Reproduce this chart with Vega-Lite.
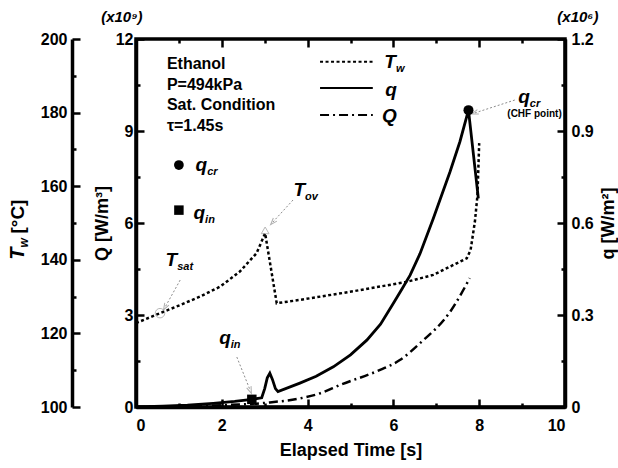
{
  "$schema": "https://vega.github.io/schema/vega-lite/v6.json",
  "width": 429,
  "height": 368,
  "autosize": {"type": "none"},
  "padding": {"left": 136, "top": 39, "right": 53, "bottom": 61},
  "background": "white",
  "config": {
    "view": {"stroke": "black", "strokeWidth": 3.5},
    "font": "Liberation Sans",
    "axis": {
      "labelFont": "Liberation Sans", "labelFontWeight": "bold", "labelFontSize": 16, "labelColor": "black",
      "titleFont": "Liberation Sans", "titleFontWeight": "bold", "titleFontSize": 18, "titleColor": "black",
      "domainColor": "black", "domainWidth": 3.5, "grid": false,
      "ticks": true, "tickColor": "black", "tickWidth": 2.5, "zindex": 1
    },
    "text": {"font": "Liberation Sans", "color": "black"}
  },
  "datasets": {
    "tw": [
      {"t": 0, "T": 122.8}, {"t": 0.56, "T": 125.5}, {"t": 1.03, "T": 127.7}, {"t": 1.49, "T": 130.0},
      {"t": 1.96, "T": 132.7}, {"t": 2.42, "T": 136.8}, {"t": 2.81, "T": 141.8}, {"t": 3.01, "T": 147.2},
      {"t": 3.28, "T": 128.2}, {"t": 3.82, "T": 129.1}, {"t": 4.99, "T": 131.3}, {"t": 6.31, "T": 134.0},
      {"t": 6.93, "T": 135.9}, {"t": 7.71, "T": 140.4}, {"t": 7.8, "T": 142.7}, {"t": 7.9, "T": 150.4},
      {"t": 7.96, "T": 157.6}, {"t": 8.0, "T": 171.7}
    ],
    "qv": [
      {"t": 0, "q": 0}, {"t": 0.63, "q": 0.003}, {"t": 1.2, "q": 0.006}, {"t": 1.8, "q": 0.012},
      {"t": 2.3, "q": 0.018}, {"t": 2.7, "q": 0.025}, {"t": 2.93, "q": 0.03}, {"t": 3.0, "q": 0.06},
      {"t": 3.06, "q": 0.095}, {"t": 3.12, "q": 0.11}, {"t": 3.18, "q": 0.09}, {"t": 3.25, "q": 0.06},
      {"t": 3.31, "q": 0.05}, {"t": 3.82, "q": 0.078}, {"t": 4.2, "q": 0.1}, {"t": 4.6, "q": 0.131},
      {"t": 5.0, "q": 0.17}, {"t": 5.38, "q": 0.218}, {"t": 5.7, "q": 0.27}, {"t": 6.0, "q": 0.338},
      {"t": 6.2, "q": 0.385}, {"t": 6.39, "q": 0.43}, {"t": 6.62, "q": 0.5}, {"t": 6.93, "q": 0.615},
      {"t": 7.32, "q": 0.767}, {"t": 7.55, "q": 0.865}, {"t": 7.75, "q": 0.968}, {"t": 7.98, "q": 0.68}
    ],
    "Qv": [
      {"t": 0, "Q": 0}, {"t": 1, "Q": 0.02}, {"t": 2, "Q": 0.06}, {"t": 3.05, "Q": 0.14},
      {"t": 3.82, "Q": 0.28}, {"t": 4.3, "Q": 0.45}, {"t": 4.76, "Q": 0.72}, {"t": 5.69, "Q": 1.21},
      {"t": 6.15, "Q": 1.53}, {"t": 6.62, "Q": 2.08}, {"t": 7.32, "Q": 3.1}, {"t": 7.78, "Q": 4.2}
    ],
    "info": [
      {"t": 0.72, "Q": 11.2, "label": "Ethanol"},
      {"t": 0.72, "Q": 10.5, "label": "P=494kPa"},
      {"t": 0.72, "Q": 9.85, "label": "Sat. Condition"},
      {"t": 0.72, "Q": 9.15, "label": "τ=1.45s"}
    ],
    "mainlab": [
      {"t": 6.06, "Q": 11.25, "m": "T"},
      {"t": 6.08, "Q": 10.34, "m": "q"},
      {"t": 6.08, "Q": 9.49, "m": "Q"},
      {"t": 1.66, "Q": 7.89, "m": "q"},
      {"t": 1.61, "Q": 6.33, "m": "q"},
      {"t": 0.96, "Q": 4.79, "m": "T"},
      {"t": 3.94, "Q": 7.08, "m": "T"},
      {"t": 2.21, "Q": 2.25, "m": "q"},
      {"t": 9.18, "Q": 10.1, "m": "q"}
    ],
    "sublab": [
      {"t": 6.06, "Q": 11.25, "s": "w"},
      {"t": 1.66, "Q": 7.89, "s": "cr"},
      {"t": 1.61, "Q": 6.33, "s": "in"},
      {"t": 0.96, "Q": 4.79, "s": "sat"},
      {"t": 3.94, "Q": 7.08, "s": "ov"},
      {"t": 2.21, "Q": 2.25, "s": "in"},
      {"t": 9.18, "Q": 10.1, "s": "cr"}
    ],
    "arrows": [
      {"t": 1.03, "Q": 4.14, "t2": 0.68, "Q2": 3.26},
      {"t": 3.66, "Q": 6.75, "t2": 3.19, "Q2": 6.03},
      {"t": 2.35, "Q": 1.63, "t2": 2.66, "Q2": 0.55},
      {"t": 8.83, "Q": 10.01, "t2": 7.9, "Q2": 9.59}
    ]
  },
  "layer": [
    {
      "encoding": {
        "x": {"field": "t", "type": "quantitative", "scale": {"domain": [0, 10], "nice": false},
          "axis": {"orient": "top", "labels": false, "domain": false, "title": null,
            "values": [0, 1, 2, 3, 4, 5, 6, 7, 8, 9, 10],
            "tickSize": {"condition": {"test": "datum.value % 2 === 0", "value": -8}, "value": -4}}},
        "y": {"field": "T", "type": "quantitative", "scale": {"domain": [100, 200], "nice": false},
          "axis": {"orient": "left", "offset": 64, "title": null,
            "values": [100, 110, 120, 130, 140, 150, 160, 170, 180, 190, 200],
            "labelExpr": "datum.value % 20 === 0 ? datum.label : ''",
            "tickSize": {"condition": {"test": "datum.value % 20 === 0", "value": -8}, "value": -4},
            "labelPadding": 13}}
      },
      "layer": [
        {"data": {"name": "tw"}, "mark": {"type": "line", "strokeDash": [3, 2.5], "strokeWidth": 2.5, "color": "black"}},
        {"data": {"values": [{"t": 0.56, "T": 125.5}]}, "mark": {"type": "point", "shape": "circle", "size": 90, "color": "#9a9a9a", "strokeWidth": 1}},
        {"data": {"values": [{"t": 3.01, "T": 148}]}, "mark": {"type": "point", "shape": "triangle-up", "size": 60, "color": "#9a9a9a", "strokeWidth": 1}}
      ]
    },
    {
      "encoding": {
        "x": {"field": "t", "type": "quantitative", "scale": {"domain": [0, 10], "nice": false},
          "axis": {"orient": "bottom", "title": "Elapsed Time [s]", "values": [0, 1, 2, 3, 4, 5, 6, 7, 8, 9, 10],
            "labelExpr": "datum.value % 2 === 0 ? datum.label : ''",
            "tickSize": {"condition": {"test": "datum.value % 2 === 0", "value": -8}, "value": -4},
            "labelPadding": 18, "titlePadding": 8}},
        "y": {"field": "Q", "type": "quantitative", "scale": {"domain": [0, 12], "nice": false},
          "axis": {"orient": "left", "title": "Q [W/m³]", "values": [0, 1.5, 3, 4.5, 6, 7.5, 9, 10.5, 12],
            "labelExpr": "datum.value % 3 === 0 ? datum.label : ''",
            "tickSize": {"condition": {"test": "datum.value % 3 === 0", "value": -8}, "value": -4},
            "labelPadding": 11, "titlePadding": 4}}
      },
      "layer": [
        {"data": {"name": "Qv"}, "mark": {"type": "line", "strokeDash": [9, 4, 2, 4], "strokeWidth": 2.5, "color": "black", "interpolate": "monotone"}},
        {"data": {"values": [{"t": 4.29, "t2": 5.52, "Q": 11.26}]}, "mark": {"type": "rule", "strokeDash": [3, 2.5], "strokeWidth": 2, "color": "black"}, "encoding": {"x2": {"field": "t2"}}},
        {"data": {"values": [{"t": 4.29, "t2": 5.52, "Q": 10.4}]}, "mark": {"type": "rule", "strokeWidth": 2, "color": "black"}, "encoding": {"x2": {"field": "t2"}}},
        {"data": {"values": [{"t": 4.29, "t2": 5.52, "Q": 9.52}]}, "mark": {"type": "rule", "strokeDash": [9, 4, 2, 4], "strokeWidth": 2, "color": "black"}, "encoding": {"x2": {"field": "t2"}}},
        {"data": {"name": "arrows"}, "mark": {"type": "rule", "strokeDash": [2, 2], "strokeWidth": 1, "color": "#8c8c8c"}, "encoding": {"x2": {"field": "t2"}, "y2": {"field": "Q2"}}},
        {"data": {"values": [{"t": 0.68, "Q": 3.26}]}, "mark": {"type": "point", "shape": "M-0.7,1L0,-1L0.7,1", "angle": 209, "size": 45, "color": "#8c8c8c", "strokeWidth": 1}},
        {"data": {"values": [{"t": 3.19, "Q": 6.03}]}, "mark": {"type": "point", "shape": "M-0.7,1L0,-1L0.7,1", "angle": 222, "size": 45, "color": "#8c8c8c", "strokeWidth": 1}},
        {"data": {"values": [{"t": 2.66, "Q": 0.55}]}, "mark": {"type": "point", "shape": "M-0.7,1L0,-1L0.7,1", "angle": 158, "size": 45, "color": "#8c8c8c", "strokeWidth": 1}},
        {"data": {"values": [{"t": 7.9, "Q": 9.59}]}, "mark": {"type": "point", "shape": "M-0.7,1L0,-1L0.7,1", "angle": 252, "size": 45, "color": "#8c8c8c", "strokeWidth": 1}},
        {"data": {"name": "info"}, "mark": {"type": "text", "align": "left", "baseline": "middle", "fontSize": 16, "fontWeight": "bold"}, "encoding": {"text": {"field": "label"}}},
        {"data": {"name": "mainlab"}, "mark": {"type": "text", "align": "right", "baseline": "middle", "fontSize": 19, "fontWeight": "bold", "fontStyle": "italic"}, "encoding": {"text": {"field": "m"}}},
        {"data": {"name": "sublab"}, "mark": {"type": "text", "align": "left", "baseline": "middle", "dy": 7, "fontSize": 11, "fontWeight": "bold", "fontStyle": "italic"}, "encoding": {"text": {"field": "s"}}},
        {"data": {"values": [{"t": 1.0, "Q": 7.89}]}, "mark": {"type": "point", "shape": "circle", "filled": true, "size": 95, "color": "black", "opacity": 1}},
        {"data": {"values": [{"t": 1.0, "Q": 6.42}]}, "mark": {"type": "point", "shape": "square", "filled": true, "size": 90, "color": "black", "opacity": 1}},
        {"data": {"values": [{"t": 9.29, "Q": 9.55, "label": "(CHF point)"}]}, "mark": {"type": "text", "align": "center", "baseline": "middle", "fontSize": 10, "fontWeight": "bold"}, "encoding": {"text": {"field": "label"}}},
        {"data": {"values": [{"t": -0.33, "Q": 12.72, "label": "(x10⁹)"}, {"t": 10.3, "Q": 12.72, "label": "(x10⁶)"}]}, "mark": {"type": "text", "align": "center", "baseline": "middle", "fontSize": 15, "fontWeight": "bold", "fontStyle": "italic"}, "encoding": {"text": {"field": "label"}}},
        {"data": {"values": [{"t": -2.62, "Q": 5.2, "label": "T"}]}, "mark": {"type": "text", "align": "right", "baseline": "alphabetic", "angle": 270, "fontSize": 20, "fontWeight": "bold", "fontStyle": "italic"}, "encoding": {"text": {"field": "label"}}},
        {"data": {"values": [{"t": -2.62, "Q": 5.2, "label": "w"}]}, "mark": {"type": "text", "align": "left", "baseline": "alphabetic", "angle": 270, "dy": 4, "fontSize": 12, "fontWeight": "bold", "fontStyle": "italic"}, "encoding": {"text": {"field": "label"}}},
        {"data": {"values": [{"t": -2.62, "Q": 5.2, "label": "[°C]"}]}, "mark": {"type": "text", "align": "left", "baseline": "alphabetic", "angle": 270, "dx": 14, "fontSize": 19, "fontWeight": "bold"}, "encoding": {"text": {"field": "label"}}}
      ]
    },
    {
      "encoding": {
        "x": {"field": "t", "type": "quantitative", "scale": {"domain": [0, 10], "nice": false}, "axis": null},
        "y": {"field": "q", "type": "quantitative", "scale": {"domain": [0, 1.2], "nice": false},
          "axis": {"orient": "right", "title": "q [W/m²]", "titleAngle": 270, "titleBaseline": "top",
            "values": [0, 0.15, 0.3, 0.45, 0.6, 0.75, 0.9, 1.05, 1.2], "format": "~g",
            "labelExpr": "round(datum.value * 100) % 30 === 0 ? datum.label : ''",
            "tickSize": {"condition": {"test": "round(datum.value * 100) % 30 === 0", "value": -8}, "value": -4},
            "labelPadding": 14, "titlePadding": 6}}
      },
      "layer": [
        {"data": {"name": "qv"}, "mark": {"type": "line", "strokeWidth": 2.8, "color": "black"}},
        {"data": {"values": [{"t": 7.75, "q": 0.968}]}, "mark": {"type": "point", "shape": "circle", "filled": true, "size": 100, "color": "black", "opacity": 1}},
        {"data": {"values": [{"t": 2.7, "q": 0.025}]}, "mark": {"type": "point", "shape": "square", "filled": true, "size": 90, "color": "black", "opacity": 1}}
      ]
    }
  ],
  "resolve": {"scale": {"y": "independent"}, "axis": {"y": "independent", "x": "independent"}}
}
